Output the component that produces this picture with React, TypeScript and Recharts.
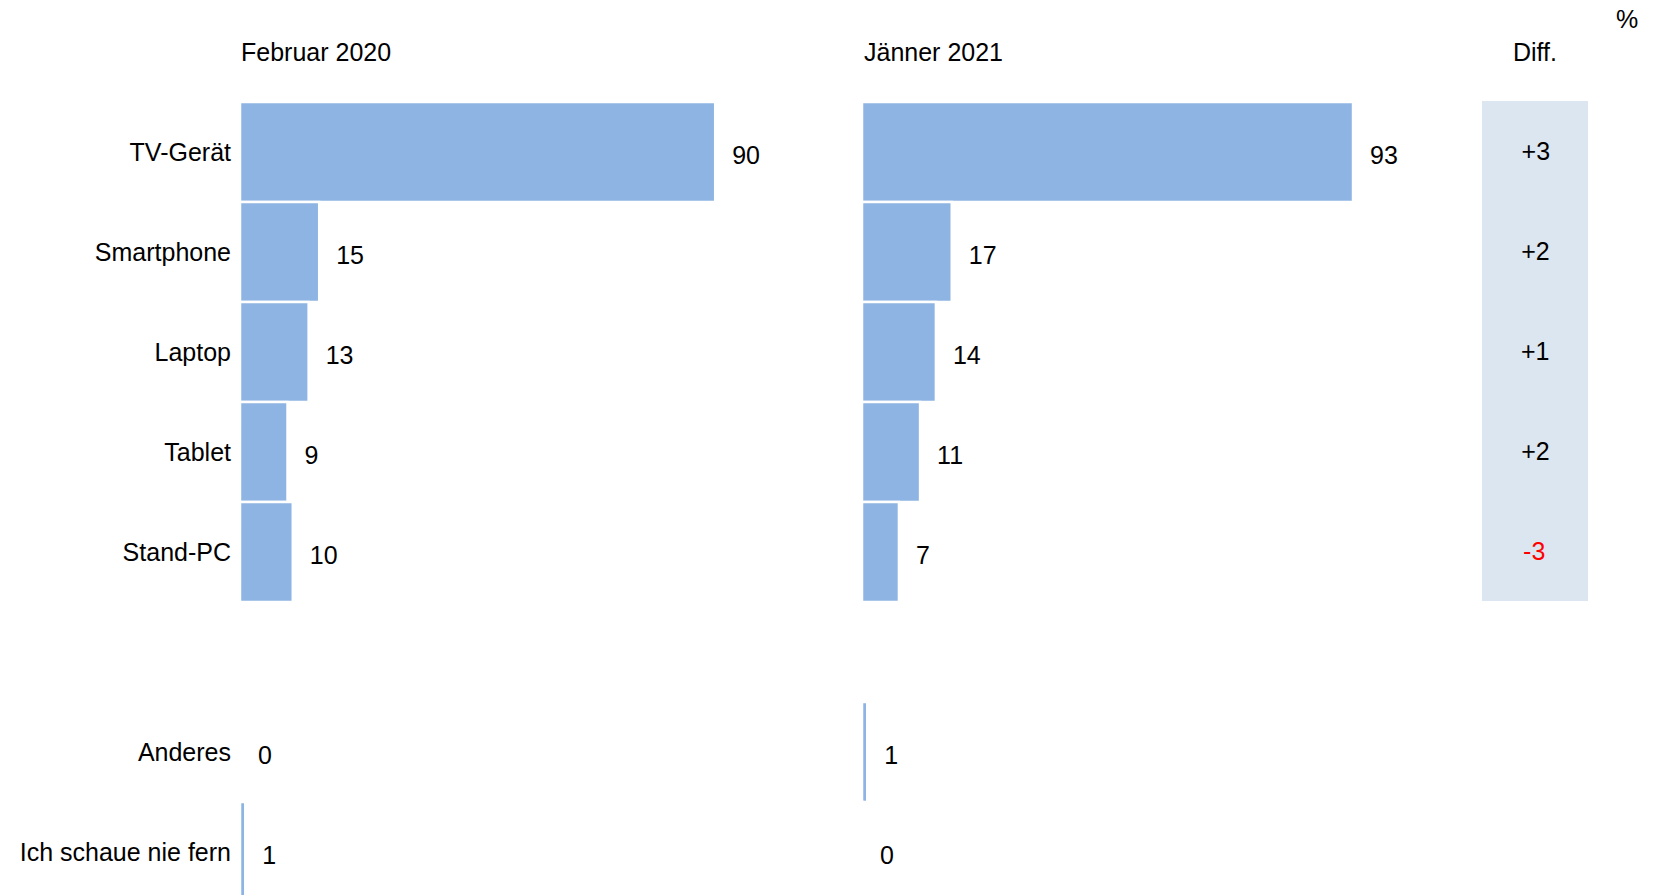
import { BarChart, Bar, XAxis, YAxis, LabelList } from 'recharts';

// Nutzung von Geräten zum Fernsehen, Werte in %
const categories = ['TV-Gerät', 'Smartphone', 'Laptop', 'Tablet', 'Stand-PC', '', 'Anderes', 'Ich schaue nie fern'];
const feb2020 = [90, 15, 13, 9, 10, null, 0, 1];
const jan2021 = [93, 17, 14, 11, 7, null, 1, 0];
const diffCategories = ['TV-Gerät', 'Smartphone', 'Laptop', 'Tablet', 'Stand-PC'];
const diffValues = [3, 2, 1, 2, -3];

const BAR_COLOR = '#8EB4E3';
const DIFF_BG = '#DCE6F1';
const FONT = '"Liberation Sans", Arial, sans-serif';

const febData = categories.map((name, i) => ({ name, value: feb2020[i] }));
const janData = categories.map((name, i) => ({ name, value: jan2021[i] }));
const diffData = diffCategories.map((name, i) => ({ name, diff: diffValues[i] }));

const ValueLabel = (props: any) => {
  const { x, y, width, height, value } = props;
  if (value === null || value === undefined) return null;
  return (
    <text
      x={x + width + 17}
      y={y + height / 2 + 3}
      fontSize={25}
      fill="#000"
      dominantBaseline="central"
    >
      {value}
    </text>
  );
};

const DiffLabel = (props: any) => {
  const { x, y, width, height, value } = props;
  return (
    <text
      x={x + width / 2}
      y={y + height / 2}
      fontSize={25}
      textAnchor="middle"
      dominantBaseline="central"
      fill={value < 0 ? '#FF0000' : '#000'}
    >
      {value > 0 ? `+${value}` : `${value}`}
    </text>
  );
};

const titleStyle = {
  position: 'absolute' as const,
  fontSize: 25,
  lineHeight: '30px',
  color: '#000',
  whiteSpace: 'nowrap' as const,
};

export default function App() {
  return (
    <div
      style={{
        position: 'absolute',
        left: 0,
        top: 0,
        width: 1653,
        height: 895,
        overflow: 'hidden',
        background: '#fff',
        fontFamily: FONT,
      }}
    >
      <div style={{ ...titleStyle, left: 241, top: 37 }}>Februar 2020</div>
      <div style={{ ...titleStyle, left: 864, top: 37 }}>Jänner 2021</div>
      <div style={{ ...titleStyle, left: 1535, top: 37, transform: 'translateX(-50%)' }}>Diff.</div>
      <div style={{ ...titleStyle, left: 1616, top: 4 }}>%</div>

      <div style={{ position: 'absolute', left: 0, top: 0 }}>
        <BarChart
          width={800}
          height={910}
          data={febData}
          layout="vertical"
          barCategoryGap={0}
          margin={{ top: 102, right: 32, bottom: 8, left: 0 }}
        >
          <XAxis type="number" domain={[0, 100]} hide />
          <YAxis
            type="category"
            dataKey="name"
            width={240}
            interval={0}
            axisLine={false}
            tickLine={false}
            tickSize={0}
            tickMargin={9}
            tick={{ fontSize: 25, fill: '#000' }}
          />
          <Bar
            dataKey="value"
            fill={BAR_COLOR}
            stroke="#fff"
            strokeWidth={2.5}
            minPointSize={1}
            isAnimationActive={false}
          >
            <LabelList dataKey="value" content={ValueLabel} />
          </Bar>
        </BarChart>
      </div>

      <div style={{ position: 'absolute', left: 862, top: 0 }}>
        <BarChart
          width={560}
          height={910}
          data={janData}
          layout="vertical"
          barCategoryGap={0}
          margin={{ top: 102, right: 32, bottom: 8, left: 0 }}
        >
          <XAxis type="number" domain={[0, 100]} hide />
          <YAxis type="category" dataKey="name" hide />
          <Bar
            dataKey="value"
            fill={BAR_COLOR}
            stroke="#fff"
            strokeWidth={2.5}
            minPointSize={1}
            isAnimationActive={false}
          >
            <LabelList dataKey="value" content={ValueLabel} />
          </Bar>
        </BarChart>
      </div>

      <div style={{ position: 'absolute', left: 1482, top: 0 }}>
        <BarChart
          width={106}
          height={602}
          data={diffData}
          layout="vertical"
          barCategoryGap={0}
          margin={{ top: 101, right: 0, bottom: 1, left: 0 }}
        >
          <XAxis type="number" domain={[-100, 100]} hide />
          <YAxis type="category" dataKey="name" hide />
          <Bar
            dataKey="diff"
            fill="transparent"
            background={{ fill: DIFF_BG }}
            isAnimationActive={false}
          >
            <LabelList dataKey="diff" content={DiffLabel} />
          </Bar>
        </BarChart>
      </div>
    </div>
  );
}
